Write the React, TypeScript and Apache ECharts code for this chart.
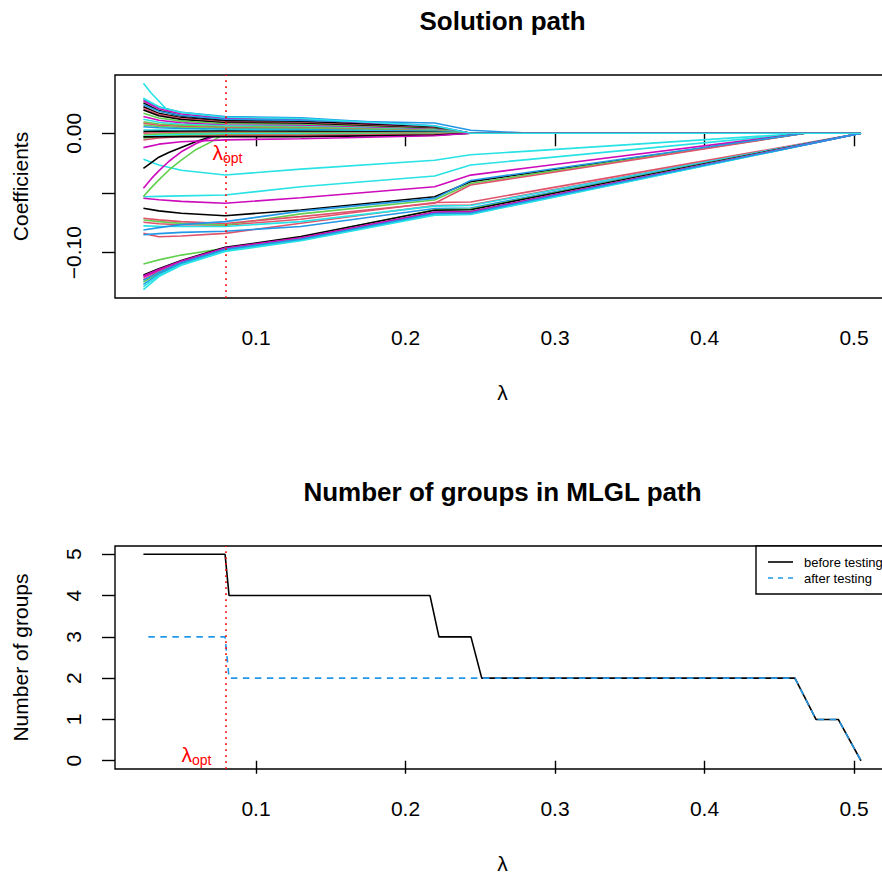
import React, { useEffect, useRef } from "react";
import * as echarts from "echarts";

const FONT = '"Liberation Sans", Arial, Helvetica, sans-serif';

// ---------- data: solution path ----------
const LAMBDA = [0.0247, 0.035, 0.05, 0.0793, 0.13, 0.2195, 0.2436, 0.285, 0.467, 0.5047];
const DROPPED_LAMBDA = [0.0247, 0.03, 0.035, 0.042, 0.05, 0.06, 0.07, 0.0793, 0.5047];
const LAMBDA_OPT = 0.0793;

const X_TICKS = [0.1, 0.2, 0.3, 0.4, 0.5];
const COEF_TICKS = [-0.1, -0.05, 0];
const COEF_LABELS = [-0.1, 0];
const GROUP_TICKS = [0, 1, 2, 3, 4, 5];

// coefficients of the group that leaves the model at lambda_opt
const DROPPED_PATHS = [
  [0.0419, 0.0335, 0.027, 0.0175, 0.011, 0.005, 0.0012, 0, 0],
  [-0.0293, -0.0245, -0.02, -0.0158, -0.0118, -0.0068, -0.0028, 0, 0],
  [-0.046, -0.038, -0.0315, -0.0232, -0.0155, -0.0085, -0.0035, 0, 0],
  [-0.053, -0.0455, -0.039, -0.0305, -0.0225, -0.0135, -0.0072, 0, 0],
];
const DROPPED_COLORS = ["cyan", "black", "magenta", "green"];

// small coefficients, zero from about lambda = 0.24
const SMALL_PATHS = [
  [0.0285, 0.022, 0.0176, 0.014, 0.0129, 0.0063, 0, 0, 0, 0],
  [0.0272, 0.0206, 0.0162, 0.0125, 0.0115, 0.0056, 0, 0, 0, 0],
  [0.0255, 0.019, 0.0146, 0.011, 0.0101, 0.005, 0, 0, 0, 0],
  [0.024, 0.0185, 0.0149, 0.0118, 0.0108, 0.0086, 0.0025, 0, 0, 0],
  [0.0222, 0.0167, 0.0131, 0.01, 0.0092, 0.0045, 0, 0, 0, 0],
  [0.0208, 0.0157, 0.0123, 0.0095, 0.0087, 0.0043, 0, 0, 0, 0],
  [0.0195, 0.0147, 0.0115, 0.0088, 0.0081, 0.004, 0, 0, 0, 0],
  [0.0168, 0.0128, 0.0102, 0.008, 0.0074, 0.0036, 0, 0, 0, 0],
  [0.014, 0.0109, 0.0088, 0.007, 0.0064, 0.0032, 0, 0, 0, 0],
  [0.0117, 0.0092, 0.0076, 0.0062, 0.0057, 0.0028, 0, 0, 0, 0],
  [0.0097, 0.0078, 0.0066, 0.0055, 0.0051, 0.0025, 0, 0, 0, 0],
  [0.0084, 0.0068, 0.0057, 0.0048, 0.0044, 0.0022, 0, 0, 0, 0],
  [0.007, 0.0057, 0.0049, 0.0042, 0.0039, 0.0019, 0, 0, 0, 0],
  [0.0055, 0.0046, 0.004, 0.0035, 0.0032, 0.0016, 0, 0, 0, 0],
  [0.0028, 0.0027, 0.0026, 0.0025, 0.0023, 0.0011, 0, 0, 0, 0],
  [0.0014, 0.0016, 0.0017, 0.0018, 0.0017, 0.0008, 0, 0, 0, 0],
  [0.0, 0.0004, 0.0006, 0.0008, 0.0007, 0.0004, 0, 0, 0, 0],
  [-0.0014, -0.0007, -0.0002, 0.0002, 0.0002, 0.0001, 0, 0, 0, 0],
  [-0.0028, -0.0018, -0.0011, -0.0005, -0.0005, -0.0002, 0, 0, 0, 0],
  [-0.0042, -0.0029, -0.002, -0.0012, -0.0011, -0.0005, 0, 0, 0, 0],
  [-0.0056, -0.0039, -0.0028, -0.0018, -0.0017, -0.0008, 0, 0, 0, 0],
  [-0.003, -0.0029, -0.0028, -0.0028, -0.0028, -0.0015, 0, 0, 0, 0],
  [-0.012, -0.0091, -0.0071, -0.0055, -0.0045, -0.002, 0, 0, 0, 0],
  [0.0293, 0.0222, 0.0175, 0.0135, 0.0124, 0.0061, 0, 0, 0, 0],
];
const SMALL_COLORS = [
  "blue", "magenta", "black", "blue", "black", "red", "black", "green",
  "magenta", "cyan", "green", "red", "green", "blue", "cyan", "black",
  "red", "green", "cyan", "green", "red", "black", "magenta", "cyan",
];

// middle group, zero from lambda = 0.467
const MIDDLE_PATHS = [
  [-0.0218, -0.0265, -0.031, -0.0349, -0.03, -0.0226, -0.018, -0.0147, 0, 0],
  [-0.0531, -0.0528, -0.0524, -0.0517, -0.0447, -0.0358, -0.0265, -0.0216, 0, 0],
  [-0.0544, -0.0556, -0.057, -0.0586, -0.054, -0.0447, -0.035, -0.0285, 0, 0],
  [-0.0628, -0.065, -0.067, -0.069, -0.0642, -0.0531, -0.0405, -0.033, 0, 0],
  [-0.0726, -0.074, -0.0754, -0.0768, -0.0675, -0.0559, -0.042, -0.0342, 0, 0],
  [-0.0712, -0.0725, -0.074, -0.0755, -0.0698, -0.0586, -0.0433, -0.0353, 0, 0],
  [-0.081, -0.079, -0.0765, -0.074, -0.0652, -0.0545, -0.0395, -0.0322, 0, 0],
];
const MIDDLE_COLORS = ["cyan", "cyan", "magenta", "black", "green", "red", "blue"];

// largest group, zero at lambda = 0.5047
const LARGE_PATHS = [
  [-0.0838, -0.0866, -0.086, -0.0838, -0.0754, -0.0605, -0.06, -0.0505, -0.0087, 0],
  [-0.0745, -0.0758, -0.0766, -0.077, -0.072, -0.058, -0.0575, -0.0484, -0.0083, 0],
  [-0.0775, -0.0778, -0.078, -0.078, -0.074, -0.061, -0.0605, -0.0509, -0.0087, 0],
  [-0.085, -0.084, -0.083, -0.082, -0.078, -0.063, -0.0625, -0.0526, -0.009, 0],
  [-0.1095, -0.106, -0.102, -0.0963, -0.087, -0.064, -0.0635, -0.0534, -0.0092, 0],
  [-0.1187, -0.1135, -0.1065, -0.0955, -0.0865, -0.0645, -0.064, -0.0538, -0.0092, 0],
  [-0.1205, -0.115, -0.1075, -0.0965, -0.088, -0.0665, -0.066, -0.0555, -0.0095, 0],
  [-0.1225, -0.116, -0.1085, -0.097, -0.0885, -0.067, -0.0665, -0.056, -0.0096, 0],
  [-0.1245, -0.117, -0.109, -0.0975, -0.088, -0.066, -0.0655, -0.0551, -0.0095, 0],
  [-0.1265, -0.118, -0.1095, -0.098, -0.089, -0.0675, -0.067, -0.0564, -0.0097, 0],
  [-0.1285, -0.119, -0.11, -0.0985, -0.0895, -0.068, -0.0675, -0.0568, -0.0097, 0],
  [-0.131, -0.12, -0.1105, -0.099, -0.09, -0.0685, -0.068, -0.0572, -0.0098, 0],
  [-0.1195, -0.114, -0.107, -0.096, -0.0875, -0.066, -0.0655, -0.0551, -0.0095, 0],
  [-0.123, -0.1165, -0.1085, -0.0972, -0.0888, -0.0672, -0.0667, -0.0561, -0.0096, 0],
];
const LARGE_COLORS = [
  "red", "red", "cyan", "blue", "green", "black", "magenta",
  "red", "green", "blue", "cyan", "cyan", "magenta", "blue",
];

// ---------- data: number of groups ----------
const BEFORE_LAMBDA = [0.0247, 0.0793, 0.082, 0.2164, 0.2224, 0.2438, 0.251, 0.4605, 0.4746, 0.4895, 0.5047];
const BEFORE_GROUPS = [5, 5, 4, 4, 3, 3, 2, 2, 1, 1, 0];
const AFTER_LAMBDA = [0.028, 0.0793, 0.082, 0.4605, 0.4746, 0.4895, 0.5047];
const AFTER_GROUPS = [3, 3, 2, 2, 1, 1, 0];

const R_PALETTE: Record<string, string> = {
  black: "#000000",
  red: "#DF536B",
  green: "#61D04F",
  blue: "#2297E6",
  cyan: "#28E2E5",
  magenta: "#CD0BBC",
};
const OPT_RED = "#FF0000";

const X_MIN = 0.00569;
const X_MAX = 0.5241;

function pathSeries(lambdas: number[], values: number[], colorKey: string) {
  return {
    type: "line",
    xAxisIndex: 0,
    yAxisIndex: 0,
    symbol: "none",
    silent: true,
    data: lambdas.map((l, i) => [l, values[i]]),
    lineStyle: { color: R_PALETTE[colorKey], width: 1.6 },
  };
}

function xAxisDef(gridIndex: number) {
  return {
    gridIndex,
    type: "value",
    min: X_MIN,
    max: X_MAX,
    name: "λ",
    nameLocation: "middle",
    nameGap: 84,
    nameTextStyle: { fontSize: 21, color: "#000", fontFamily: FONT },
    axisLine: { show: false },
    splitLine: { show: false },
    axisTick: {
      show: true,
      length: 13,
      customValues: X_TICKS,
      lineStyle: { color: "#000", width: 1.4 },
    },
    axisLabel: {
      customValues: X_TICKS,
      margin: 29,
      fontSize: 21,
      color: "#000",
      fontFamily: FONT,
      formatter: (v: number) => v.toFixed(1),
    },
  };
}

function yAxisDef(gridIndex: number, min: number, max: number, name: string, ticks: number[], labels: number[], fmt: (v: number) => string) {
  return {
    gridIndex,
    type: "value",
    min,
    max,
    name,
    nameLocation: "middle",
    nameRotate: 90,
    nameGap: 84,
    nameTextStyle: { fontSize: 21, color: "#000", fontFamily: FONT },
    axisLine: { show: false },
    splitLine: { show: false },
    axisTick: { show: true, length: 13, customValues: ticks, lineStyle: { color: "#000", width: 1.4 } },
    axisLabel: {
      customValues: labels,
      rotate: 90,
      margin: 31,
      fontSize: 21,
      color: "#000",
      fontFamily: FONT,
      formatter: fmt,
    },
  };
}

export default function App() {
  const ref = useRef<HTMLDivElement>(null);

  useEffect(() => {
    if (!ref.current) return;
    const chart = echarts.init(ref.current, null, { renderer: "svg" });

    const series: any[] = [];
    LARGE_PATHS.forEach((p, i) => series.push(pathSeries(LAMBDA, p, LARGE_COLORS[i])));
    MIDDLE_PATHS.forEach((p, i) => series.push(pathSeries(LAMBDA, p, MIDDLE_COLORS[i])));
    DROPPED_PATHS.forEach((p, i) => series.push(pathSeries(DROPPED_LAMBDA, p, DROPPED_COLORS[i])));
    SMALL_PATHS.forEach((p, i) => series.push(pathSeries(LAMBDA, p, SMALL_COLORS[i])));

    const optMarkLine = {
      silent: true,
      symbol: ["none", "none"],
      label: { show: false },
      lineStyle: { color: OPT_RED, type: [1.8, 4.2], width: 1.6 },
      data: [{ xAxis: LAMBDA_OPT }],
    };
    series[series.length - 1].markLine = optMarkLine;

    series.push({
      type: "line",
      xAxisIndex: 1,
      yAxisIndex: 1,
      symbol: "none",
      silent: true,
      data: BEFORE_LAMBDA.map((l, i) => [l, BEFORE_GROUPS[i]]),
      lineStyle: { color: "#000", width: 1.6 },
    });
    series.push({
      type: "line",
      xAxisIndex: 1,
      yAxisIndex: 1,
      symbol: "none",
      silent: true,
      data: AFTER_LAMBDA.map((l, i) => [l, AFTER_GROUPS[i]]),
      lineStyle: { color: R_PALETTE.blue, width: 1.6, type: [6.5, 5.5] },
      markLine: optMarkLine,
    });

    const txt = (text: string, x: number, y: number, size: number, extra: any = {}) => ({
      type: "text",
      x,
      y,
      silent: true,
      style: {
        text,
        fontSize: size,
        fontFamily: FONT,
        fill: "#000",
        align: "center",
        verticalAlign: "middle",
        ...extra,
      },
    });

    const option: any = {
      animation: false,
      backgroundColor: "#ffffff",
      grid: [
        { left: 115, top: 75, width: 775, height: 223, show: true, borderColor: "#000", borderWidth: 1.4, backgroundColor: "transparent" },
        { left: 115, top: 546, width: 775, height: 223, show: true, borderColor: "#000", borderWidth: 1.4, backgroundColor: "transparent" },
      ],
      xAxis: [xAxisDef(0), xAxisDef(1)],
      yAxis: [
        yAxisDef(0, -0.13794, 0.04883, "Coefficients", COEF_TICKS, COEF_LABELS,
          (v: number) => (v < 0 ? "\u2212" : "") + Math.abs(v).toFixed(2)),
        yAxisDef(1, -0.2, 5.2, "Number of groups", GROUP_TICKS, GROUP_TICKS,
          (v: number) => String(Math.round(v))),
      ],
      series,
      graphic: [
        txt("Solution path", 502.5, 21, 26, { fontWeight: "bold" }),
        txt("Number of groups in MLGL path", 502.5, 491.5, 26, { fontWeight: "bold" }),
        txt("λ", 223, 152, 21, { fill: OPT_RED, align: "right" }),
        txt("opt", 223, 158, 14, { fill: OPT_RED, align: "left" }),
        txt("λ", 192, 754, 21, { fill: OPT_RED, align: "right" }),
        txt("opt", 192, 760, 14, { fill: OPT_RED, align: "left" }),
        {
          type: "rect",
          silent: true,
          shape: { x: 756, y: 546, width: 150, height: 48 },
          style: { fill: "#fff", stroke: "#000", lineWidth: 1.4 },
          z: 10,
        },
        {
          type: "line",
          silent: true,
          shape: { x1: 768, y1: 562, x2: 793, y2: 562 },
          style: { stroke: "#000", lineWidth: 1.6 },
          z: 11,
        },
        {
          type: "line",
          silent: true,
          shape: { x1: 768, y1: 578, x2: 793, y2: 578 },
          style: { stroke: R_PALETTE.blue, lineWidth: 1.6, lineDash: [5, 5] },
          z: 11,
        },
        { ...txt("before testing", 804, 562, 13, { align: "left" }), z: 11 },
        { ...txt("after testing", 804, 578, 13, { align: "left" }), z: 11 },
      ],
    };

    chart.setOption(option);
    return () => chart.dispose();
  }, []);

  return (
    <div style={{ position: "absolute", left: 0, top: 0, width: 882, height: 878, overflow: "hidden", background: "#fff" }}>
      <div ref={ref} style={{ width: 900, height: 878 }} />
    </div>
  );
}
